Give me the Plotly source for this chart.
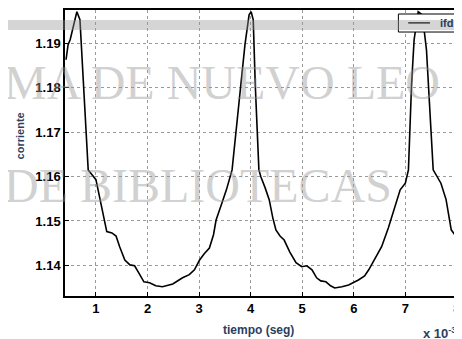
import plotly.graph_objects as go

# curva ifd (eje x en unidades de 10^-3 s)
tiempo = [0.42, 0.46, 0.50, 0.58, 0.63, 0.69, 0.77, 0.85, 1.00, 1.12, 1.21, 1.31, 1.39,
          1.46, 1.56, 1.66, 1.75, 1.85, 1.93, 2.04, 2.16, 2.29, 2.49, 2.68, 2.81, 2.91,
          3.01, 3.10, 3.20, 3.28, 3.33, 3.43, 3.53, 3.64, 3.74, 3.82, 3.89, 3.97, 4.01,
          4.05, 4.09, 4.16, 4.20, 4.28, 4.36, 4.43, 4.49, 4.57, 4.65, 4.76, 4.88, 4.99,
          5.09, 5.19, 5.28, 5.36, 5.46, 5.55, 5.63, 5.77, 5.90, 6.09, 6.21, 6.29, 6.40,
          6.54, 6.67, 6.79, 6.90, 7.00, 7.06, 7.12, 7.17, 7.25, 7.33, 7.41, 7.46, 7.54,
          7.69, 7.79, 7.89, 7.98, 8.06]
ifd = [1.1863, 1.1897, 1.1908, 1.1948, 1.1971, 1.1953, 1.1773, 1.1615, 1.1593, 1.1525,
       1.1476, 1.1473, 1.1466, 1.1442, 1.1412, 1.1401, 1.1399, 1.1379, 1.1363, 1.1361,
       1.1354, 1.1352, 1.1358, 1.1372, 1.1379, 1.1390, 1.1412, 1.1426, 1.1439, 1.1469,
       1.1502, 1.1536, 1.1570, 1.1615, 1.1728, 1.1806, 1.1897, 1.1964, 1.1971, 1.1953,
       1.1806, 1.1615, 1.1599, 1.1575, 1.1548, 1.1507, 1.1480, 1.1466, 1.1457, 1.1430,
       1.1406, 1.1397, 1.1399, 1.1390, 1.1372, 1.1365, 1.1363, 1.1354, 1.1349, 1.1352,
       1.1356, 1.1367, 1.1376, 1.1390, 1.1412, 1.1442, 1.1484, 1.1532, 1.1570, 1.1585,
       1.1615, 1.1806, 1.1908, 1.1971, 1.1964, 1.1885, 1.1773, 1.1615, 1.1585, 1.1548,
       1.1480, 1.1466, 1.1464]

xticks = [1, 2, 3, 4, 5, 6, 7, 8]
yticks = [1.14, 1.15, 1.16, 1.17, 1.18, 1.19]

fig = go.Figure()
fig.add_trace(go.Scatter(x=tiempo, y=ifd, mode="lines", name="ifd",
                         line=dict(color="black", width=1.6)))

tick_font = dict(family="Arial", size=13, color="black", weight="bold")
ejes = dict(showline=True, linecolor="black", linewidth=1.5, mirror=True,
            ticks="inside", ticklen=4, tickcolor="black",
            showgrid=True, gridcolor="#9a9a9a", griddash="dot", gridwidth=1,
            zeroline=False, tickfont=tick_font, ticklabeloverflow="allow")
fig.update_xaxes(range=[0.40, 8.06], tickvals=xticks, ticktext=[str(t) for t in xticks], **ejes)
fig.update_yaxes(range=[1.1331, 1.1975], tickvals=yticks,
                 ticktext=[f"{t:.2f}" for t in yticks], **ejes)

# la página tiene 8px de margen en body: se descuentan aquí
fig.update_layout(
    width=454, height=331,
    margin=dict(l=57, r=0, t=2, b=43),
    plot_bgcolor="white", paper_bgcolor="white",
    showlegend=False,
)

# leyenda dibujada a mano (recortada en el borde, como en el original)
fig.add_shape(type="rect", xref="paper", yref="paper", x0=0.844, x1=1.03, y0=0.923, y1=0.986,
              fillcolor="white", line=dict(color="black", width=1), layer="above")
fig.add_shape(type="line", xref="paper", yref="paper", x0=0.869, x1=0.924, y0=0.955, y1=0.955,
              line=dict(color="black", width=1.5), layer="above")
fig.add_annotation(text="ifd", xref="paper", yref="paper", x=0.945, y=0.955,
                   xanchor="left", yanchor="middle", showarrow=False,
                   font=dict(family="Arial", size=11, weight="bold"))

# textos de ejes
fig.add_annotation(text="tiempo (seg)", xref="paper", yref="paper", x=0.49, y=-0.119,
                   xanchor="center", yanchor="middle", showarrow=False,
                   font=dict(family="Arial", size=12, weight="bold"))
fig.add_annotation(text="corriente", xref="paper", yref="paper", x=-0.115, y=0.56,
                   xanchor="center", yanchor="middle", textangle=-90, showarrow=False,
                   font=dict(family="Arial", size=11, weight="bold"))
fig.add_annotation(text="x 10<sup>-3</sup>", xref="paper", yref="paper", x=0.90, y=-0.13,
                   xanchor="left", yanchor="middle", showarrow=False,
                   font=dict(family="Arial", size=13, weight="bold"))

# marca de agua del escaneo
fig.add_shape(type="rect", xref="paper", yref="paper", x0=-0.2, x1=1.0, y0=0.93, y1=0.965,
              fillcolor="rgba(150,150,150,0.4)", line_width=0, layer="above")
wm = dict(family="Liberation Serif", size=48, color="rgba(150,150,150,0.45)")
fig.add_annotation(text="MA DE NUEVO LEO", xref="paper", yref="paper", x=-0.16, y=0.748,
                   xanchor="left", yanchor="middle", showarrow=False, font=wm)
fig.add_annotation(text="DE BIBLIOTECAS", xref="paper", yref="paper", x=-0.16, y=0.388,
                   xanchor="left", yanchor="middle", showarrow=False, font=wm)

fig.write_html("out.html")
